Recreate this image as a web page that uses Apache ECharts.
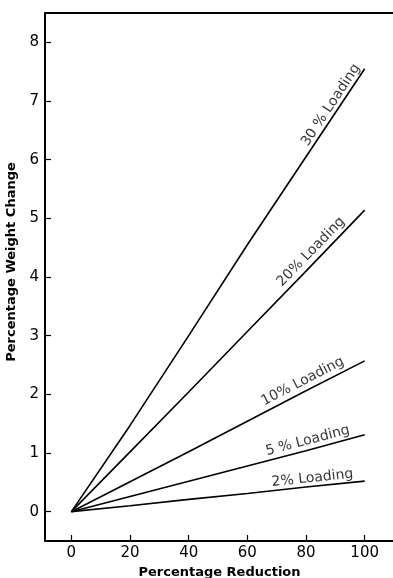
<!DOCTYPE html>
<html>
<head>
<meta charset="utf-8">
<script src="https://cdn.jsdelivr.net/npm/echarts@6/dist/echarts.min.js"></script>
<style>html,body{margin:0;padding:0;background:#fff}#c{width:393px;height:578px}</style>
</head>
<body>
<div id="c"></div>
<script>
var xValues = [0, 20, 40, 60, 80, 100];
var load30 = [0, 1.47, 3.0, 4.55, 6.05, 7.55];
var load20 = [0, 1.02, 2.04, 3.07, 4.1, 5.14];
var load10 = [0, 0.51, 1.02, 1.54, 2.06, 2.57];
var load5 = [0, 0.26, 0.52, 0.78, 1.04, 1.31];
var load2 = [0, 0.1, 0.21, 0.31, 0.42, 0.52];
var seriesNames = ['30 % Loading', '20% Loading', '10% Loading', '5 % Loading', '2% Loading'];
var xTicks = [0, 20, 40, 60, 80, 100];
var yTicks = [0, 1, 2, 3, 4, 5, 6, 7, 8];

var allSeries = [load30, load20, load10, load5, load2];
var labelAnchors = [[88.5, 6.93], [81.7, 4.43], [78.9, 2.22], [80.6, 1.21], [82.2, 0.57]];

var chart = echarts.init(document.getElementById('c'));
var font = 'DejaVu Sans, Liberation Sans, sans-serif';

function buildOption(angles) {
  var series = [];
  allSeries.forEach(function (vals, i) {
    series.push({
      type: 'line',
      name: seriesNames[i],
      data: xValues.map(function (x, j) { return [x, vals[j]]; }),
      symbol: 'none',
      lineStyle: { color: '#000', width: 1.6 },
      silent: true
    });
    series.push({
      type: 'scatter',
      data: [labelAnchors[i]],
      symbolSize: 0,
      silent: true,
      label: {
        show: true,
        position: 'inside',
        formatter: seriesNames[i],
        rotate: angles ? angles[i] : 0,
        color: '#000',
        fontSize: 14,
        fontFamily: font
      }
    });
  });
  return {
    animation: false,
    grid: { left: 45, right: -1, top: 13, bottom: 37, containLabel: false, outerBoundsMode: 'none' },
    xAxis: [{
      type: 'value',
      min: -9, max: 110,
      position: 'bottom',
      splitLine: { show: false },
      axisLine: { show: true, onZero: false, lineStyle: { color: '#000', width: 2 } },
      axisTick: { show: true, inside: true, length: 6, customValues: xTicks, lineStyle: { color: '#000', width: 1.2 } },
      axisLabel: { show: true, customValues: xTicks, margin: 5, color: '#000', fontSize: 15, fontFamily: font },
      name: 'Percentage Reduction',
      nameLocation: 'middle',
      nameGap: 23,
      nameTextStyle: { color: '#000', fontSize: 13, fontWeight: 'bold', fontFamily: font }
    }, {
      type: 'value',
      min: -9, max: 110,
      position: 'top',
      splitLine: { show: false },
      axisLine: { show: true, onZero: false, lineStyle: { color: '#000', width: 2 } },
      axisTick: { show: false },
      axisLabel: { show: false }
    }],
    yAxis: {
      type: 'value',
      min: -0.5, max: 8.5,
      splitLine: { show: false },
      axisLine: { show: true, onZero: false, lineStyle: { color: '#000', width: 2 } },
      axisTick: { show: true, inside: true, length: 6, customValues: yTicks, lineStyle: { color: '#000', width: 1.2 } },
      axisLabel: { show: true, customValues: yTicks, margin: 6, color: '#000', fontSize: 15, fontFamily: font },
      name: 'Percentage Weight Change',
      nameLocation: 'middle',
      nameGap: 24,
      nameTextStyle: { color: '#000', fontSize: 13, fontWeight: 'bold', fontFamily: font, padding: [0, 0, 0, 30] }
    },
    series: series
  };
}

chart.setOption(buildOption(null));
var angles = allSeries.map(function (vals) {
  var p0 = chart.convertToPixel({ xAxisIndex: 0, yAxisIndex: 0 }, [xValues[0], vals[0]]);
  var p1 = chart.convertToPixel({ xAxisIndex: 0, yAxisIndex: 0 }, [xValues[xValues.length - 1], vals[vals.length - 1]]);
  return Math.atan2(p0[1] - p1[1], p1[0] - p0[0]) * 180 / Math.PI;
});
chart.setOption(buildOption(angles));
</script>
</body>
</html>
